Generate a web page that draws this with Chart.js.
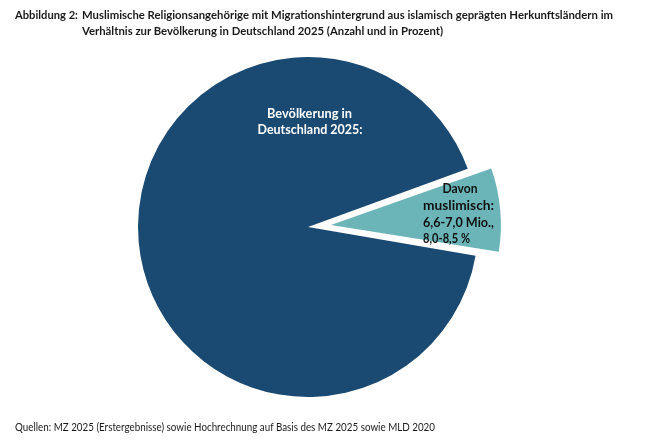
<!DOCTYPE html>
<html>
<head>
<meta charset="utf-8">
<script src="https://cdn.jsdelivr.net/npm/chart.js@4"></script>
<style>
  html, body { margin: 0; padding: 0; background: #fff; width: 645px; height: 445px; overflow: hidden; }
  #wrap { position: relative; width: 645px; height: 445px; }
  canvas { position: absolute; left: 0; top: 0; }
  .t { position: absolute; font-family: Lato, "Open Sans", sans-serif; color: #1a1a1a; white-space: nowrap; transform-origin: 0 50%; line-height: 16px; }
  #lab { left: 15px; top: 7px; font-weight: bold; font-size: 12px; }
  #l1 { left: 82px; top: 7px; font-weight: bold; font-size: 12px; }
  #l2 { left: 82px; top: 23px; font-weight: bold; font-size: 12px; }
  #src { left: 15px; top: 419px; font-size: 11px; }
</style>
</head>
<body>
<div id="wrap">
  <canvas id="c" width="645" height="445"></canvas>
  <div class="t" id="lab">Abbildung 2:</div>
  <div class="t" id="l1">Muslimische Religionsangehörige mit Migrationshintergrund aus islamisch geprägten Herkunftsländern im</div>
  <div class="t" id="l2">Verhältnis zur Bevölkerung in Deutschland 2025 (Anzahl und in Prozent)</div>
  <div class="t" id="src">Quellen: MZ 2025 (Erstergebnisse) sowie Hochrechnung auf Basis des MZ 2025 sowie MLD 2020</div>
</div>
<script>
const categories = ['Davon muslimisch', 'Bevölkerung in Deutschland 2025'];
const shares = [8.25, 91.75];
const sliceLabels = [
  ['Davon', 'muslimisch:', '6,6-7,0 Mio.,', '8,0-8,5 %'],
  ['Bevölkerung in', 'Deutschland 2025:']
];
const colors = ['#6bb5b8', '#1a4a72'];

// horizontally fit HTML text to the reference widths
function fitX(el, target) {
  const w = el.getBoundingClientRect().width;
  const s = target / w;
  el.style.transform = 'scaleX(' + s + ')';
  return s;
}
const sTitle = fitX(document.getElementById('l1'), 531);
document.getElementById('l2').style.transform = 'scaleX(' + sTitle + ')';
fitX(document.getElementById('lab'), 63);
fitX(document.getElementById('src'), 420);

function drawFit(ctx, text, x, y, width, align) {
  const w = ctx.measureText(text).width;
  const s = width / w;
  ctx.save();
  ctx.translate(x, y);
  ctx.scale(s, 1);
  ctx.textAlign = align;
  ctx.fillText(text, 0, 0);
  ctx.restore();
}

// keep the exploded slice at the same radius as the rest of the pie
const radiusFix = {
  id: 'radiusFix',
  beforeDatasetsDraw(chart) {
    const meta = chart.getDatasetMeta(0);
    meta.data.forEach(arc => {
      const off = (arc.options.offset || 0) / 4;
      const fix = 1 - Math.sin(Math.min(Math.PI, arc.circumference));
      if (off && !arc._radiusFixed) {
        arc.outerRadius = arc.outerRadius - off * fix;
        arc._radiusFixed = true;
      }
    });
  }
};

const labelPlugin = {
  id: 'sliceText',
  afterDatasetsDraw(chart) {
    const ctx = chart.ctx;
    const meta = chart.getDatasetMeta(0);
    const big = meta.data[1];
    ctx.save();
    ctx.textBaseline = 'middle';
    // big slice label
    ctx.fillStyle = '#ffffff';
    ctx.font = 'bold 14px Lato, sans-serif';
    drawFit(ctx, sliceLabels[1][0], big.x + 1.5, big.y - 114, 85, 'center');
    drawFit(ctx, sliceLabels[1][1], big.x + 2, big.y - 98, 105, 'center');
    // small slice label
    ctx.fillStyle = '#111111';
    ctx.font = 'bold 13.5px Lato, sans-serif';
    const cx = big.x, cy = big.y;
    drawFit(ctx, sliceLabels[0][0], cx + 152, cy - 38, 35, 'center');
    drawFit(ctx, sliceLabels[0][1], cx + 115, cy - 21, 71, 'left');
    drawFit(ctx, sliceLabels[0][2], cx + 115, cy - 4, 71, 'left');
    drawFit(ctx, sliceLabels[0][3], cx + 115, cy + 12, 47, 'left');
    ctx.restore();
  }
};

new Chart(document.getElementById('c'), {
  type: 'pie',
  data: {
    labels: categories,
    datasets: [{
      data: shares,
      backgroundColor: colors,
      borderWidth: 0,
      offset: [92, 0],
      hoverOffset: 0
    }]
  },
  options: {
    responsive: false,
    animation: false,
    rotation: 70,
    radius: 170,
    layout: { padding: { left: 0, right: 29, top: 10, bottom: 1 } },
    plugins: {
      legend: { display: false },
      tooltip: { enabled: false },
      title: { display: false }
    }
  },
  plugins: [radiusFix, labelPlugin]
});
</script>
</body>
</html>
